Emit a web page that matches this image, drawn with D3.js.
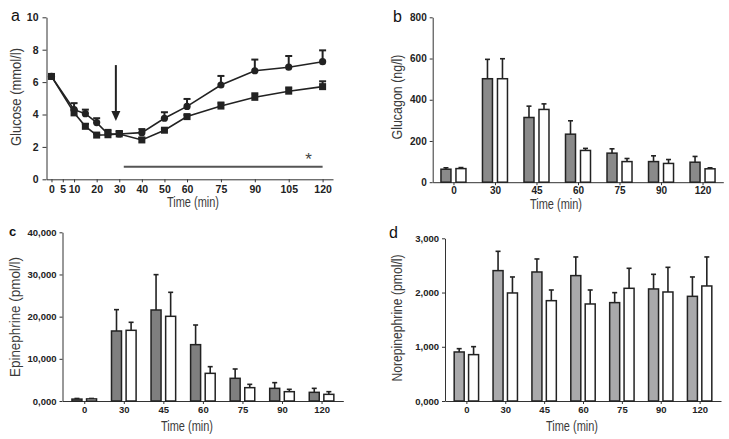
<!DOCTYPE html>
<html>
<head>
<meta charset="utf-8">
<script src="https://cdn.jsdelivr.net/npm/d3@7"></script>
<style>
  body { margin: 0; background: #fff; }
  svg text { font-family: "Liberation Sans", Arial, sans-serif; }
  .tick text { font-weight: bold; fill: #222; }
  .domain, .tick line { stroke: #333; }
</style>
</head>
<body>
<script>
// panel a - glucose time course
var glucoseTimes = [0, 10, 15, 20, 25, 30, 40, 50, 60, 75, 90, 105, 120];
var glucoseTicks = [0, 5, 10, 20, 30, 40, 50, 60, 75, 90, 105, 120];
var glucoseCircle = [6.35, 4.3, 4.05, 3.5, 2.8, 2.8, 2.88, 3.77, 4.5, 5.82, 6.7, 6.92, 7.26];
var glucoseCircleErr = [0.05, 0.4, 0.25, 0.27, 0.25, 0.18, 0.22, 0.37, 0.46, 0.56, 0.69, 0.69, 0.7];
var glucoseSquare = [6.35, 4.1, 3.27, 2.73, 2.75, 2.8, 2.43, 3.03, 3.87, 4.52, 5.06, 5.44, 5.72];
var glucoseSquareErr = [0.05, 0.2, 0.15, 0.08, 0.25, 0.15, 0.12, 0.1, 0.1, 0.22, 0.25, 0.23, 0.33];
var glucoseYTicks = [0, 2, 4, 6, 8, 10];

// panels b-d share the sampling times
var barTimes = ["0", "30", "45", "60", "75", "90", "120"];

var glucagonGray = [63, 502, 314, 233, 141, 100, 97];
var glucagonGrayErr = [7, 94, 55, 65, 21, 28, 28];
var glucagonWhite = [66, 502, 353, 154, 100, 91, 65];
var glucagonWhiteErr = [5, 97, 27, 10, 15, 19, 5];
var glucagonYTicks = [0, 200, 400, 600, 800];

var epiGray = [450, 16600, 21580, 13360, 5380, 3000, 2055];
var epiGrayErr = [150, 5060, 8380, 4660, 2210, 1350, 945];
var epiWhite = [500, 16760, 20080, 6560, 3160, 2210, 1580];
var epiWhiteErr = [100, 1900, 5690, 1580, 790, 560, 630];
var epiYTicks = [0, 10000, 20000, 30000, 40000];
var epiYLabels = ["0,000", "10,000", "20,000", "30,000", "40,000"];

var noreGray = [904, 2404, 2379, 2312, 1814, 2066, 1930];
var noreGrayErr = [61, 356, 240, 344, 184, 270, 357];
var noreWhite = [855, 1992, 1850, 1789, 2078, 2010, 2121];
var noreWhiteErr = [147, 295, 197, 258, 369, 455, 535];
var noreYTicks = [0, 1000, 2000, 3000];
var noreYLabels = ["0,000", "1,000", "2,000", "3,000"];

var svg = d3.select("body").append("svg")
  .attr("width", 729)
  .attr("height", 439);

function panelLetter(x, y, t, size, weight) {
  svg.append("text").attr("x", x).attr("y", y)
    .style("font-size", size + "px").style("font-weight", weight)
    .style("fill", "#111").text(t);
}

function yTitle(x, y, t, len) {
  svg.append("text")
    .attr("transform", "translate(" + x + "," + y + ") rotate(-90)")
    .attr("text-anchor", "middle")
    .attr("textLength", len).attr("lengthAdjust", "spacingAndGlyphs")
    .style("font-size", "15.5px").style("fill", "#3a3a3a")
    .text(t);
}

function xTitle(x, y) {
  svg.append("text").attr("x", x).attr("y", y)
    .attr("text-anchor", "middle")
    .attr("textLength", 52).attr("lengthAdjust", "spacingAndGlyphs")
    .style("font-size", "14px").style("fill", "#3a3a3a")
    .text("Time (min)");
}

// ---------- panel a ----------
var ax = d3.scaleLinear().domain([-2.2, 124.6]).range([46.5, 333]);
var ay = d3.scaleLinear().domain([0, 10]).range([179.3, 17.3]);

svg.append("g")
  .attr("transform", "translate(0," + ay(0) + ")")
  .call(d3.axisBottom(ax).tickValues(glucoseTicks).tickSize(3).tickSizeOuter(0).tickPadding(3))
  .selectAll("text").style("font-size", "10.5px");

svg.append("g")
  .attr("transform", "translate(" + ax.range()[0] + ",0)")
  .call(d3.axisLeft(ay).tickValues(glucoseYTicks).tickSize(4).tickSizeOuter(0).tickPadding(4))
  .selectAll("text").style("font-size", "10.5px");

var circleData = glucoseTimes.map(function(t, i) {
  return { t: t, v: glucoseCircle[i], e: glucoseCircleErr[i] };
});
var squareData = glucoseTimes.map(function(t, i) {
  return { t: t, v: glucoseSquare[i], e: glucoseSquareErr[i] };
});

var line = d3.line()
  .x(function(d) { return ax(d.t); })
  .y(function(d) { return ay(d.v); });

[circleData, squareData].forEach(function(series) {
  svg.append("path").datum(series)
    .attr("d", line)
    .style("fill", "none").style("stroke", "#222").style("stroke-width", 1.6);

  var eb = svg.append("g").selectAll("g").data(series).enter().append("g");
  eb.append("line")
    .attr("x1", function(d) { return ax(d.t); })
    .attr("x2", function(d) { return ax(d.t); })
    .attr("y1", function(d) { return ay(d.v); })
    .attr("y2", function(d) { return ay(d.v + d.e); })
    .style("stroke", "#222").style("stroke-width", 2);
  eb.append("line")
    .attr("x1", function(d) { return ax(d.t) - 3.5; })
    .attr("x2", function(d) { return ax(d.t) + 3.5; })
    .attr("y1", function(d) { return ay(d.v + d.e); })
    .attr("y2", function(d) { return ay(d.v + d.e); })
    .style("stroke", "#222").style("stroke-width", 2);
});

svg.append("g").selectAll("rect").data(squareData).enter().append("rect")
  .attr("x", function(d) { return ax(d.t) - 3.5; })
  .attr("y", function(d) { return ay(d.v) - 3.5; })
  .attr("width", 7).attr("height", 7)
  .style("fill", "#222");

svg.append("g").selectAll("circle").data(circleData).enter().append("circle")
  .attr("cx", function(d) { return ax(d.t); })
  .attr("cy", function(d) { return ay(d.v); })
  .attr("r", 3.6)
  .style("fill", "#222");

// arrow at start of treatment
var arrowT = 28.5, arrowTop = 7.05, arrowTip = 3.6;
svg.append("line")
  .attr("x1", ax(arrowT)).attr("x2", ax(arrowT))
  .attr("y1", ay(arrowTop)).attr("y2", ay(arrowTip) - 8)
  .style("stroke", "#222").style("stroke-width", 2);
svg.append("path")
  .attr("d", "M" + (ax(arrowT) - 4.5) + "," + (ay(arrowTip) - 10) +
    "L" + (ax(arrowT) + 4.5) + "," + (ay(arrowTip) - 10) +
    "L" + ax(arrowT) + "," + ay(arrowTip) + "Z")
  .style("fill", "#222");

// significance bar
svg.append("line")
  .attr("x1", ax(32)).attr("x2", ax(120))
  .attr("y1", ay(0.78)).attr("y2", ay(0.78))
  .style("stroke", "#555").style("stroke-width", 2);
svg.append("text")
  .attr("x", ax(113.8)).attr("y", ay(0.88))
  .attr("text-anchor", "middle")
  .style("font-size", "17px").style("fill", "#444")
  .text("*");

panelLetter(11, 21, "a", 16, "normal");
yTitle(20.5, 97, "Glucose (mmol/l)", 98);
xTitle(193, 207);

// ---------- bar panels ----------
function drawBars(cfg) {
  var x = d3.scalePoint().domain(barTimes).range(cfg.xr).padding(cfg.pad);
  var y = d3.scaleLinear().domain(cfg.yd).range(cfg.yr);

  var xg = svg.append("g")
    .attr("transform", "translate(0," + cfg.yr[0] + ")")
    .call(d3.axisBottom(x).tickSize(3).tickSizeOuter(0).tickPadding(2));
  xg.selectAll("text").style("font-size", cfg.fs + "px");

  var yAxis = d3.axisLeft(y).tickValues(cfg.ticks).tickSize(3).tickSizeOuter(0).tickPadding(3);
  if (cfg.labels) {
    yAxis.tickFormat(function(d, i) { return cfg.labels[i]; });
  }
  var yg = svg.append("g")
    .attr("transform", "translate(" + cfg.xr[0] + ",0)")
    .call(yAxis);
  yg.selectAll("text").style("font-size", cfg.fs + "px");

  var data = [];
  barTimes.forEach(function(t, i) {
    data.push({ t: t, v: cfg.gray[i], e: cfg.grayErr[i], off: -cfg.off, fill: cfg.grayFill });
    data.push({ t: t, v: cfg.white[i], e: cfg.whiteErr[i], off: cfg.off, fill: "#fff" });
  });

  var bw = 10;
  var g = svg.append("g").selectAll("g").data(data).enter().append("g");

  g.append("line")
    .attr("x1", function(d) { return x(d.t) + d.off; })
    .attr("x2", function(d) { return x(d.t) + d.off; })
    .attr("y1", function(d) { return y(d.v); })
    .attr("y2", function(d) { return y(d.v + d.e); })
    .style("stroke", "#222").style("stroke-width", 1.6);
  g.append("line")
    .attr("x1", function(d) { return x(d.t) + d.off - 2.5; })
    .attr("x2", function(d) { return x(d.t) + d.off + 2.5; })
    .attr("y1", function(d) { return y(d.v + d.e); })
    .attr("y2", function(d) { return y(d.v + d.e); })
    .style("stroke", "#222").style("stroke-width", 1.6);

  g.append("rect")
    .attr("x", function(d) { return x(d.t) + d.off - bw / 2; })
    .attr("y", function(d) { return y(d.v); })
    .attr("width", bw)
    .attr("height", function(d) { return y(0) - y(d.v); })
    .style("fill", function(d) { return d.fill; })
    .style("stroke", "#222").style("stroke-width", 1.5);
}

drawBars({
  xr: [432.7, 723.3], pad: 0.5, yd: [0, 800], yr: [182.2, 17.3],
  ticks: glucagonYTicks, fs: 10,
  gray: glucagonGray, grayErr: glucagonGrayErr,
  white: glucagonWhite, whiteErr: glucagonWhiteErr,
  grayFill: "#8a8a8a", off: 7.5
});
panelLetter(393, 21.7, "b", 16, "normal");
yTitle(402, 97, "Glucagon (ng/l)", 85);
xTitle(556, 209);

drawBars({
  xr: [62.5, 343.3], pad: 0.55, yd: [0, 40000], yr: [401, 232.3],
  ticks: epiYTicks, labels: epiYLabels, fs: 9.5,
  gray: epiGray, grayErr: epiGrayErr,
  white: epiWhite, whiteErr: epiWhiteErr,
  grayFill: "#7f7f7f", off: 7.3
});
panelLetter(9, 235.7, "c", 13, "bold");
yTitle(19.5, 317, "Epinephrine (pmol/l)", 120);
xTitle(187, 431);

drawBars({
  xr: [445, 721], pad: 0.55, yd: [0, 3000], yr: [401, 238.3],
  ticks: noreYTicks, labels: noreYLabels, fs: 9.5,
  gray: noreGray, grayErr: noreGrayErr,
  white: noreWhite, whiteErr: noreWhiteErr,
  grayFill: "#a9a9ab", off: 7.2
});
panelLetter(389, 238, "d", 16, "normal");
yTitle(401.5, 318, "Norepinephrine (pmol/l)", 127);
xTitle(572, 431);
</script>
</body>
</html>
